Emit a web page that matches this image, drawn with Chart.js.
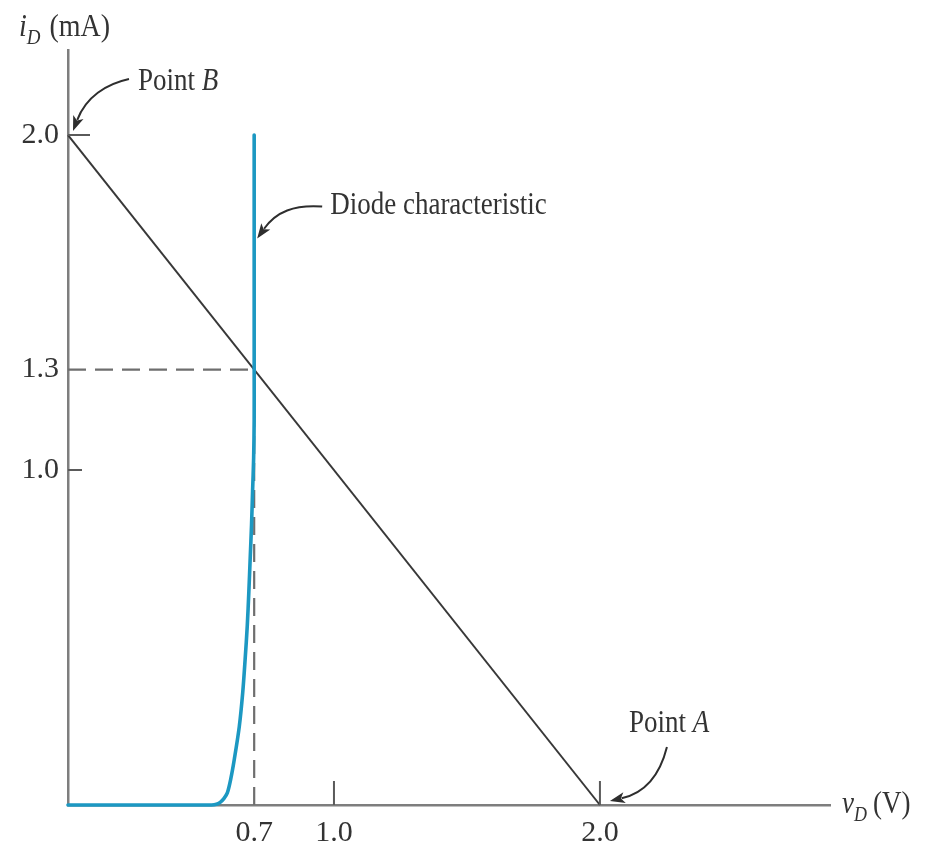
<!DOCTYPE html>
<html>
<head>
<meta charset="utf-8">
<title>Diode load line</title>
<script src="https://cdn.jsdelivr.net/npm/chart.js@4/dist/chart.umd.min.js"></script>
<style>
  html, body { margin: 0; padding: 0; background: #ffffff; }
  #wrap { width: 932px; height: 852px; }
</style>
</head>
<body>
<div id="wrap"><canvas id="c" width="932" height="852"></canvas></div>
<script>
// Diode forward characteristic, vD in volts, iD in milliamps
const diodeV = [0, 0.40, 0.540, 0.558, 0.572, 0.586, 0.599, 0.612, 0.625, 0.644, 0.657, 0.666, 0.674, 0.680, 0.685, 0.690, 0.694, 0.698, 0.700, 0.700, 0.700];
const diodeI = [0, 0, 0, 0.002, 0.008, 0.019, 0.036, 0.078, 0.135, 0.234, 0.336, 0.435, 0.535, 0.637, 0.736, 0.835, 0.937, 1.036, 1.15, 1.30, 2.00];

// Load line end points: Point B (0 V, 2 mA) and Point A (2 V, 0 mA)
const loadV = [0, 2.0];
const loadI = [2.0, 0];

// Operating point
const qV = 0.7;
const qI = 1.3;

// Tick labels shown on each axis
const xTicks = [0.7, 1.0, 2.0];
const yTicks = [1.0, 1.3, 2.0];

const toPoints = (xs, ys) => xs.map((x, i) => ({ x: x, y: ys[i] }));

const SERIF = "'Liberation Serif', 'DejaVu Serif', serif";
const INK = '#333333';
const AXIS = '#7e7e7e';
const BLUE = '#1c98c2';

// text helper: slightly tall serif lettering, runs of [text, italic, subscript, gapAfter]
function drawRuns(ctx, x, y, runs, size) {
  let cx = x;
  runs.forEach(r => {
    const sub = r[2];
    const fs = sub ? Math.round(size * 0.68) : size;
    ctx.save();
    ctx.font = (r[1] ? 'italic ' : '') + fs + 'px ' + SERIF;
    ctx.fillStyle = INK;
    ctx.textBaseline = 'alphabetic';
    ctx.textAlign = 'left';
    ctx.translate(cx, y + (sub ? size * 0.3 : 0));
    ctx.scale(1, 1.14);
    ctx.fillText(r[0], 0, 0);
    ctx.restore();
    ctx.font = (r[1] ? 'italic ' : '') + fs + 'px ' + SERIF;
    cx += ctx.measureText(r[0]).width + (r[3] || 0);
  });
}

// curved pointer with a filled head at (x3, y3)
function drawPointer(ctx, x0, y0, c1x, c1y, c2x, c2y, x3, y3) {
  ctx.save();
  ctx.strokeStyle = '#2e2e2e';
  ctx.fillStyle = '#2e2e2e';
  ctx.lineWidth = 2;
  const ang = Math.atan2(y3 - c2y, x3 - c2x);
  const hl = 15, hw = 5.5;
  const bx = x3 - Math.cos(ang) * hl * 0.8, by = y3 - Math.sin(ang) * hl * 0.8;
  ctx.beginPath();
  ctx.moveTo(x0, y0);
  ctx.bezierCurveTo(c1x, c1y, c2x, c2y, bx, by);
  ctx.stroke();
  ctx.beginPath();
  ctx.moveTo(x3, y3);
  ctx.lineTo(x3 - Math.cos(ang) * hl - Math.sin(ang) * hw, y3 - Math.sin(ang) * hl + Math.cos(ang) * hw);
  ctx.lineTo(x3 - Math.cos(ang) * hl * 0.75, y3 - Math.sin(ang) * hl * 0.75);
  ctx.lineTo(x3 - Math.cos(ang) * hl + Math.sin(ang) * hw, y3 - Math.sin(ang) * hl - Math.cos(ang) * hw);
  ctx.closePath();
  ctx.fill();
  ctx.restore();
}

const decorations = {
  id: 'decorations',
  afterDraw(chart) {
    const ctx = chart.ctx;
    const xs = chart.scales.x, ys = chart.scales.y;
    const x0 = xs.getPixelForValue(0), y0 = ys.getPixelForValue(0);

    // short inward tick marks
    ctx.save();
    ctx.strokeStyle = '#5a5a5a';
    ctx.lineWidth = 2;
    ctx.beginPath();
    [[2.0, 22], [1.0, 14]].forEach(([v, len]) => {
      const py = ys.getPixelForValue(v);
      ctx.moveTo(x0, py); ctx.lineTo(x0 + len, py);
    });
    [1.0, 2.0].forEach(v => {
      const px = xs.getPixelForValue(v);
      ctx.moveTo(px, y0); ctx.lineTo(px, y0 - 24);
    });
    ctx.stroke();
    ctx.restore();

    // axis titles
    drawRuns(ctx, 19, 36, [['i', true, false, 0], ['D', true, true, 9], ['(mA)', false, false]], 28);
    drawRuns(ctx, xs.right + 12, y0 + 8, [['v', true, false, 0], ['D', true, true, 6], ['(V)', false, false]], 27);

    // Point B
    const bx = xs.getPixelForValue(loadV[0]), by = ys.getPixelForValue(loadI[0]);
    drawRuns(ctx, bx + 70, by - 45, [['Point ', false, false], ['B', true, false]], 27);
    drawPointer(ctx, bx + 61, by - 56, bx + 38, by - 51, bx + 18, by - 38, bx + 5, by - 4);

    // Point A
    const ax = xs.getPixelForValue(loadV[1]), ay = ys.getPixelForValue(loadI[1]);
    drawRuns(ctx, ax + 29, ay - 73, [['Point ', false, false], ['A', true, false]], 27);
    drawPointer(ctx, ax + 67, ay - 58, ax + 60, ay - 30, ax + 45, ay - 12, ax + 10, ay - 4);

    // diode characteristic label
    const dx = xs.getPixelForValue(qV), dy = ys.getPixelForValue(1.70);
    drawRuns(ctx, dx + 76, dy - 22, [['Diode characteristic', false, false]], 27);
    drawPointer(ctx, dx + 68, dy - 29, dx + 40, dy - 31, dx + 22, dy - 24, dx + 3, dy + 3);
  }
};

const dashStyle = {
  borderColor: '#6e6e6e',
  borderWidth: 2.2,
  borderDash: [18, 9],
  pointRadius: 0,
  showLine: true,
  fill: false,
  clip: false
};

new Chart(document.getElementById('c'), {
  type: 'scatter',
  data: {
    datasets: [
      {
        label: 'Diode characteristic',
        data: toPoints(diodeV, diodeI),
        borderColor: BLUE,
        borderWidth: 3.6,
        pointRadius: 0,
        showLine: true,
        tension: 0.3,
        fill: false,
        clip: false,
        borderCapStyle: 'round'
      },
      {
        label: 'Load line',
        data: toPoints(loadV, loadI),
        borderColor: '#383838',
        borderWidth: 2,
        pointRadius: 0,
        showLine: true,
        fill: false,
        clip: false
      },
      Object.assign({ label: 'iD at Q', data: toPoints([0, qV], [qI, qI]) }, dashStyle),
      Object.assign({ label: 'vD at Q', data: toPoints([qV, qV], [0, qI]) }, dashStyle)
    ]
  },
  options: {
    responsive: false,
    animation: false,
    events: [],
    layout: { padding: { top: 50, right: 102, left: 0, bottom: 0 } },
    plugins: {
      legend: { display: false },
      tooltip: { enabled: false },
      title: { display: false }
    },
    scales: {
      x: {
        type: 'linear',
        min: 0,
        max: 2.865,
        afterBuildTicks: s => { s.ticks = xTicks.map(v => ({ value: v })); },
        afterFit: s => { s.height = 47; },
        grid: { display: true, drawOnChartArea: false, drawTicks: false },
        border: { display: true, color: AXIS, width: 2.5 },
        ticks: {
          padding: 10,
          color: INK,
          font: { family: SERIF, size: 30 },
          callback: v => Number(v).toFixed(1),
          maxRotation: 0
        }
      },
      y: {
        type: 'linear',
        min: 0,
        max: 2.254,
        afterBuildTicks: s => { s.ticks = yTicks.map(v => ({ value: v })); },
        afterFit: s => { s.width = 68; },
        grid: { display: true, drawOnChartArea: false, drawTicks: false },
        border: { display: true, color: AXIS, width: 2.5 },
        ticks: {
          padding: 9,
          color: INK,
          font: { family: SERIF, size: 30 },
          callback: v => Number(v).toFixed(1)
        }
      }
    }
  },
  plugins: [decorations]
});
</script>
</body>
</html>
